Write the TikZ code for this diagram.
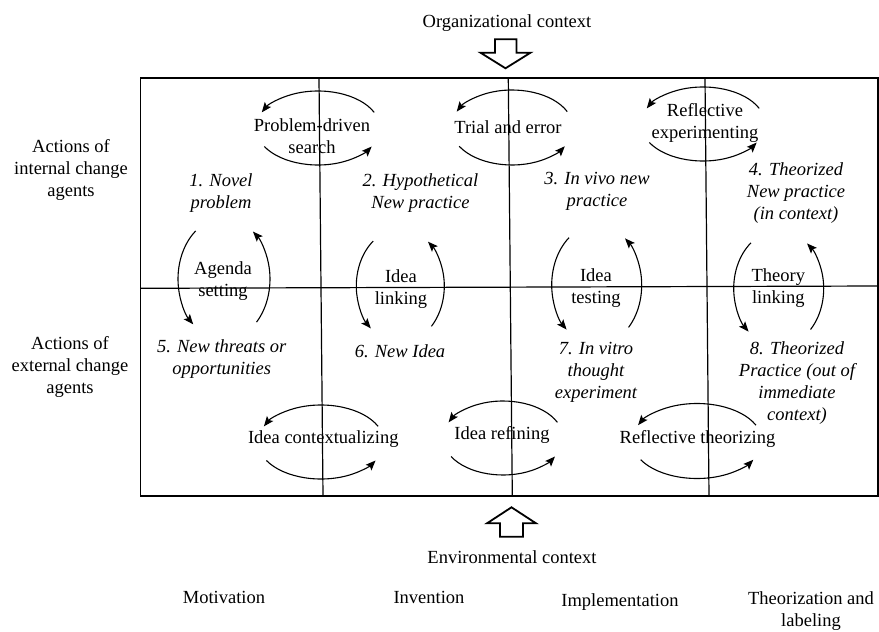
\documentclass[tikz,border=0pt]{standalone}
\usepackage{fontspec}
\setmainfont{Liberation Serif}
\usetikzlibrary{arrows.meta}
\newcommand\hloop[3]{%
  \draw[loopline] (#1) ++(-25:#2 and #3) arc[start angle=-25, end angle=-155, x radius=#2, y radius=#3];
  \draw[loopline] (#1) ++(150:#2 and #3) arc[start angle=150, end angle=30, x radius=#2, y radius=#3];}
\newcommand\vloop[3]{%
  \draw[loopline] (#1) ++(-128:#2 and #3) arc[start angle=-128, end angle=-228, x radius=#2, y radius=#3];
  \draw[loopline] (#1) ++(45:#2 and #3) arc[start angle=45, end angle=-51, x radius=#2, y radius=#3];}
\begin{document}
\begin{tikzpicture}[x=1pt,y=-1pt,
  lbl/.style={inner sep=0pt, align=center, font=\fontsize{18.5}{22}\selectfont},
  ital/.style={inner sep=0pt, align=center, font=\fontsize{18.5}{22}\selectfont\itshape},
  gridline/.style={line width=1.2pt},
  loopline/.style={line width=1.1pt, -{Stealth[length=10pt,width=8pt,inset=2pt]}},
  blockarrow/.style={line width=1.8pt, line join=miter, fill=white}]
\useasboundingbox (0,0) rectangle (879,632);
% grid
\coordinate (tl) at (140.5,78);
\coordinate (br) at (878,496);
\draw[gridline] (tl) rectangle (br);
\coordinate (v1t) at (319,78);   \coordinate (v1b) at (323,496);
\coordinate (v2t) at (508.3,78); \coordinate (v2b) at (512.3,496);
\coordinate (v3t) at (705,78);   \coordinate (v3b) at (709,496);
\coordinate (hl) at (140.5,288.3); \coordinate (hr) at (878,286);
\draw[gridline] (v1t) -- (v1b);
\draw[gridline] (v2t) -- (v2b);
\draw[gridline] (v3t) -- (v3b);
\draw[gridline] (hl) -- (hr);
% context arrows
\draw[blockarrow] (495,39.3) -- (516.5,39.3) -- (516.5,52.7) -- (530.5,52.7) -- (505.5,68.3) -- (480.5,52.7) -- (495,52.7) -- cycle;
\draw[blockarrow] (511.5,507.3) -- (536,523.3) -- (523,523.3) -- (523,536.7) -- (500,536.7) -- (500,523.3) -- (487,523.3) -- cycle;
\node[lbl] (org) at (507,23) {Organizational context};
\node[lbl] (env) at (512,556.7) {Environmental context};
% side labels
\node[lbl] (int) at (71,170) {Actions of\\internal change\\agents};
\node[lbl] (ext) at (70,367) {Actions of\\external change\\agents};
% phase labels
\node[lbl] (mot) at (224,597) {Motivation};
\node[lbl] (inv) at (429,597) {Invention};
\node[lbl] (imp) at (620,601.7) {Implementation};
\node[lbl] (the) at (811,611) {Theorization and\\labeling};
% states
\node[ital] (n1) at (221,193.5) {1. Novel\\problem};
\node[ital] (n2) at (420.5,193.5) {2. Hypothetical\\New practice};
\node[ital] (n3) at (597,191) {3. In vivo new\\practice};
\node[ital] (n4) at (796,193.3) {4. Theorized\\New practice\\(in context)};
\node[ital] (n5) at (221.7,359) {5. New threats or\\opportunities};
\node[ital] (n6) at (400,351.7) {6. New Idea};
\node[ital] (n7) at (596,372.6) {7. In vitro\\thought\\experiment};
\node[ital] (n8) at (797,383) {8. Theorized\\Practice (out of\\immediate\\context)};
% loop labels
\node[lbl] (pds) at (312,136) {Problem-driven\\search};
\node[lbl] (te) at (508,127) {Trial and error};
\node[lbl] (re) at (705,123.3) {Reflective\\experimenting};
\node[lbl] (ic) at (323.3,439.3) {Idea contextualizing};
\node[lbl] (ir) at (502,435) {Idea refining};
\node[lbl] (rt) at (697.5,439.3) {Reflective theorizing};
\node[lbl] (as) at (223,281) {Agenda\\setting};
\node[lbl] (il) at (401,289) {Idea\\linking};
\node[lbl] (it) at (596,288.3) {Idea\\testing};
\node[lbl] (tlk) at (778.3,288.3) {Theory\\linking};
% loop centres
\coordinate (c-pds) at (318,128);
\coordinate (c-te) at (512,127.5);
\coordinate (c-re) at (703,124);
\coordinate (c-ic) at (321,442);
\coordinate (c-ir) at (503,438);
\coordinate (c-rt) at (697,441);
\coordinate (c-as) at (224,279);
\coordinate (c-il) at (400.3,286);
\coordinate (c-it) at (596.7,285);
\coordinate (c-tl) at (778.7,288.5);
\hloop{c-pds}{62}{37}
\hloop{c-te}{61}{37.5}
\hloop{c-re}{62}{37}
\hloop{c-ic}{63}{37}
\hloop{c-ir}{60}{37}
\hloop{c-rt}{65}{37.5}
\vloop{c-as}{46}{61}
\vloop{c-il}{44}{57}
\vloop{c-it}{45}{60}
\vloop{c-tl}{45}{58}
\end{tikzpicture}
\end{document}
